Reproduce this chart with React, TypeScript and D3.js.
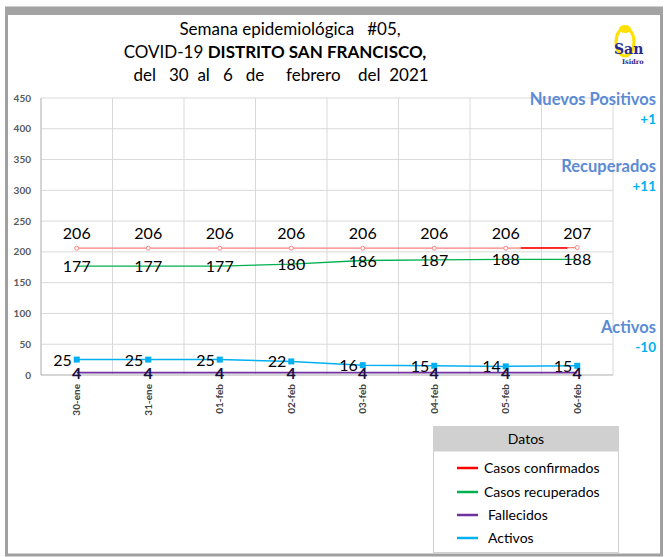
import React, { useEffect, useRef } from 'react';
import * as d3 from 'd3';

const fechas = ['30-ene', '31-ene', '01-feb', '02-feb', '03-feb', '04-feb', '05-feb', '06-feb'];
const confirmados = [206, 206, 206, 206, 206, 206, 206, 207];
const recuperados = [177, 177, 177, 180, 186, 187, 188, 188];
const fallecidos = [4, 4, 4, 4, 4, 4, 4, 4];
const activos = [25, 25, 25, 22, 16, 15, 14, 15];
const yTicks = [0, 50, 100, 150, 200, 250, 300, 350, 400, 450];

const leyenda = ['Casos confirmados', 'Casos recuperados', 'Fallecidos', 'Activos'];
const colores = ['#ff0000', '#00b050', '#7030a0', '#00b0f0'];

const notas = [
  { titulo: 'Nuevos Positivos', valor: '+1' },
  { titulo: 'Recuperados', valor: '+11' },
  { titulo: 'Activos', valor: '-10' },
];

const FONT = 'Lato, "Open Sans", sans-serif';

const App = () => {
  const svgRef = useRef<SVGSVGElement>(null);

  useEffect(() => {
    const svg = d3.select(svgRef.current);
    svg.selectAll('*').remove();

    const W = 665, H = 557;
    svg.attr('width', W).attr('height', H).style('font-family', FONT);

    // marco
    svg.append('rect').attr('x', 0).attr('y', 0).attr('width', W).attr('height', H).attr('fill', '#fff');
    svg.append('rect').attr('x', 6.5).attr('y', 8).attr('width', 655).attr('height', 547)
      .attr('fill', '#fff').attr('stroke', '#a0a0a0').attr('stroke-width', 3);
    svg.append('rect').attr('x', 5).attr('y', 7).attr('width', 658).attr('height', 8).attr('fill', '#a3a3a3');

    const left = 41, right = 613, top = 98, bottom = 375;
    const x = d3.scaleBand().domain(fechas).range([left, right]);
    const y = d3.scaleLinear().domain([0, 450]).range([bottom, top]);
    const cx = (d: string) => (x(d) as number) + x.bandwidth() / 2;

    // titulo
    const t = svg.append('text').attr('text-anchor', 'middle').attr('font-size', 17).attr('fill', '#000')
      .style('white-space', 'pre');
    t.append('tspan').attr('x', 290).attr('y', 35).text('Semana epidemiológica   #05,');
    const l2 = t.append('tspan').attr('x', 275).attr('y', 58);
    l2.append('tspan').text('COVID-19 ');
    l2.append('tspan').attr('font-weight', 'bold').text('DISTRITO SAN FRANCISCO,');
    t.append('tspan').attr('x', 281).attr('y', 81).text('del   30  al   6   de     febrero    del  2021');

    // logo
    const logo = svg.append('g').attr('transform', 'translate(630,46)');
    logo.append('ellipse').attr('cx', -5).attr('cy', -4).attr('rx', 9).attr('ry', 14).attr('fill', 'none')
      .attr('stroke', '#ffe000').attr('stroke-width', 3);
    logo.append('ellipse').attr('cx', -5).attr('cy', -17).attr('rx', 6).attr('ry', 4).attr('fill', '#ffe000');
    logo.append('text').attr('x', -16).attr('y', 8).attr('font-family', '"DejaVu Serif", serif')
      .attr('font-weight', 'bold').attr('font-size', 14).attr('fill', '#2a2a8c').text('San');
    logo.append('text').attr('x', -8).attr('y', 18).attr('font-family', '"DejaVu Serif", serif')
      .attr('font-weight', 'bold').attr('font-size', 6.5).attr('fill', '#2a2a8c').text('Isidro');

    // rejilla
    const grid = svg.append('g');
    grid.selectAll('line.h').data(yTicks).enter().append('line')
      .attr('x1', left).attr('x2', right).attr('y1', d => y(d)).attr('y2', d => y(d))
      .attr('stroke', '#d9d9d9').attr('stroke-width', 1);
    grid.selectAll('line.v').data([...fechas.map(d => x(d) as number), right]).enter().append('line')
      .attr('x1', d => d).attr('x2', d => d).attr('y1', top).attr('y2', bottom)
      .attr('stroke', '#d9d9d9').attr('stroke-width', 1);
    grid.append('line').attr('x1', left).attr('x2', right).attr('y1', bottom).attr('y2', bottom)
      .attr('stroke', '#bfbfbf');
    grid.append('line').attr('x1', left).attr('x2', left).attr('y1', top).attr('y2', bottom)
      .attr('stroke', '#bfbfbf');

    // eje y
    svg.append('g').selectAll('text').data(yTicks).enter().append('text')
      .attr('x', 31).attr('y', d => y(d) + 3.5).attr('text-anchor', 'end')
      .attr('font-size', 10).attr('font-weight', 'bold').attr('fill', '#595959').text(d => d);

    // eje x
    svg.append('g').selectAll('text').data(fechas).enter().append('text')
      .attr('transform', d => `translate(${cx(d) + 3.5},384) rotate(-90)`)
      .attr('text-anchor', 'end').attr('font-size', 10).attr('font-weight', 'bold').attr('fill', '#404040')
      .text(d => d);

    const line = d3.line<number>().x((_, i) => cx(fechas[i])).y(d => y(d));

    // confirmados
    svg.append('path').datum(confirmados).attr('d', line).attr('fill', 'none')
      .attr('stroke', '#ff8080').attr('stroke-width', 1.3);
    svg.append('line').attr('x1', cx(fechas[6]) + 15).attr('x2', cx(fechas[7]) - 10)
      .attr('y1', y(206.5)).attr('y2', y(206.5)).attr('stroke', '#ff0000').attr('stroke-width', 1.5);
    svg.append('g').selectAll('circle').data(confirmados).enter().append('circle')
      .attr('cx', (_, i) => cx(fechas[i])).attr('cy', d => y(d)).attr('r', 2)
      .attr('fill', '#fff').attr('stroke', '#ff8080').attr('stroke-width', 1);
    svg.append('g').selectAll('text').data(confirmados).enter().append('text')
      .attr('x', (_, i) => cx(fechas[i])).attr('y', d => y(d) - 9).attr('text-anchor', 'middle')
      .attr('font-size', 16).attr('fill', '#000').text(d => d);

    // recuperados
    svg.append('path').datum(recuperados).attr('d', line).attr('fill', 'none')
      .attr('stroke', '#00b050').attr('stroke-width', 1.3);
    svg.append('g').selectAll('text').data(recuperados).enter().append('text')
      .attr('x', (_, i) => cx(fechas[i])).attr('y', d => y(d) + 6).attr('text-anchor', 'middle')
      .attr('font-size', 16).attr('fill', '#000').text(d => d);

    // activos
    svg.append('path').datum(activos).attr('d', line).attr('fill', 'none')
      .attr('stroke', '#00b0f0').attr('stroke-width', 1.5);
    svg.append('g').selectAll('rect').data(activos).enter().append('rect')
      .attr('x', (_, i) => cx(fechas[i]) - 3).attr('y', d => y(d) - 3).attr('width', 6).attr('height', 6)
      .attr('fill', '#00b0f0');
    svg.append('g').selectAll('text').data(activos).enter().append('text')
      .attr('x', (_, i) => cx(fechas[i]) - 5).attr('y', d => y(d) + 6).attr('text-anchor', 'end')
      .attr('font-size', 16).attr('fill', '#000').text(d => d);

    // fallecidos
    svg.append('path').datum(fallecidos).attr('d', line).attr('fill', 'none')
      .attr('stroke', '#7030a0').attr('stroke-width', 1.8);
    svg.append('g').selectAll('text').data(fallecidos).enter().append('text')
      .attr('x', (_, i) => cx(fechas[i])).attr('y', d => y(d) + 6).attr('text-anchor', 'middle')
      .attr('font-size', 16).attr('font-weight', 'bold').attr('fill', '#1a1040').text(d => d);

    // notas
    const notaY = [99, 166, 327];
    notas.forEach((n, i) => {
      svg.append('text').attr('x', 656).attr('y', notaY[i] + 6).attr('text-anchor', 'end')
        .attr('font-size', 16.5).attr('font-weight', 'bold').attr('fill', '#5b8bd5').text(n.titulo);
      svg.append('text').attr('x', 656).attr('y', notaY[i] + 25).attr('text-anchor', 'end')
        .attr('font-size', 13.5).attr('font-weight', 'bold').attr('fill', '#00b0f0').text(n.valor);
    });

    // leyenda
    const lg = svg.append('g');
    lg.append('rect').attr('x', 433.5).attr('y', 426.5).attr('width', 185).attr('height', 126)
      .attr('fill', '#fff').attr('stroke', '#d0d0d0');
    lg.append('rect').attr('x', 433.5).attr('y', 426.5).attr('width', 185).attr('height', 25)
      .attr('fill', '#d0d0d0');
    lg.append('text').attr('x', 526).attr('y', 444).attr('text-anchor', 'middle')
      .attr('font-size', 14).attr('fill', '#000').text('Datos');
    const itemY = [468, 492, 515, 538];
    leyenda.forEach((s, i) => {
      lg.append('line').attr('x1', 457).attr('x2', 478).attr('y1', itemY[i]).attr('y2', itemY[i])
        .attr('stroke', colores[i]).attr('stroke-width', 2.5);
      lg.append('text').attr('x', i < 2 ? 484 : 488).attr('y', itemY[i] + 5)
        .attr('font-size', 14).attr('fill', '#000').text(s);
    });
  }, []);

  return <svg ref={svgRef} style={{ position: 'absolute', left: 0, top: 0 }}></svg>;
};

export default App;
